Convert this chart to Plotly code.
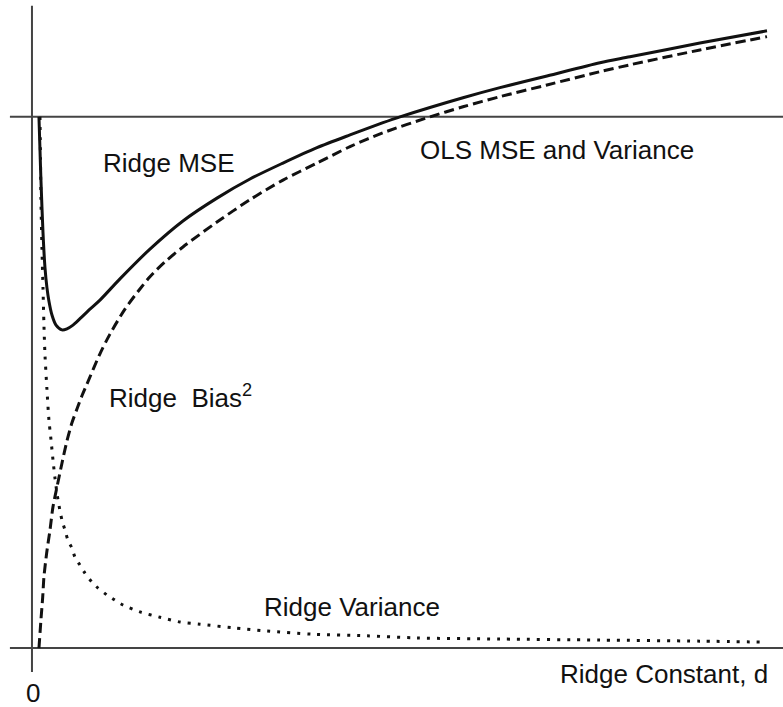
import plotly.graph_objects as go

# ridge constant d (arbitrary units, 0..10) and MSE values (OLS MSE = 1)
mse_d = [0.095, 0.109, 0.122, 0.150, 0.177, 0.204, 0.231, 0.272, 0.327, 0.408,
         0.476, 0.558, 0.653, 0.789, 0.925, 1.197, 1.605, 2.054, 2.517, 2.966,
         3.415, 3.878, 4.327, 4.776, 5.007, 5.864, 6.367, 7.007, 7.728, 8.136,
         9.088, 10.0]
mse_v = [1.000, 0.938, 0.881, 0.782, 0.716, 0.678, 0.653, 0.627, 0.608, 0.599,
         0.601, 0.608, 0.620, 0.638, 0.655, 0.695, 0.751, 0.804, 0.847, 0.883,
         0.913, 0.942, 0.966, 0.989, 1.000, 1.036, 1.055, 1.077, 1.102, 1.113,
         1.139, 1.162]

bias_d = [0.095, 0.122, 0.146, 0.163, 0.200, 0.245, 0.286, 0.340, 0.408, 0.476,
          0.544, 0.612, 0.680, 0.748, 0.925, 1.061, 1.265, 1.469, 1.605, 1.810,
          2.054, 2.517, 2.966, 3.415, 3.878, 4.327, 4.776, 5.415, 5.864, 6.367,
          7.007, 7.728, 8.136, 9.088, 10.0]
bias_v = [0.000, 0.053, 0.096, 0.134, 0.179, 0.222, 0.266, 0.303, 0.348, 0.390,
          0.424, 0.450, 0.475, 0.497, 0.554, 0.591, 0.638, 0.676, 0.699, 0.727,
          0.755, 0.802, 0.844, 0.881, 0.913, 0.944, 0.970, 1.000, 1.019, 1.038,
          1.060, 1.085, 1.098, 1.126, 1.151]

var_d = [0.109, 0.116, 0.122, 0.136, 0.150, 0.163, 0.177, 0.204, 0.231, 0.259,
         0.286, 0.313, 0.354, 0.408, 0.449, 0.490, 0.544, 0.585, 0.653, 0.721,
         0.816, 0.898, 1.020, 1.129, 1.238, 1.469, 1.741, 2.014, 2.286, 2.735,
         3.197, 3.823, 4.558, 5.238, 6.367, 7.728, 9.088, 10.0]
var_v = [1.000, 0.919, 0.844, 0.750, 0.678, 0.608, 0.552, 0.486, 0.429, 0.392,
         0.354, 0.320, 0.279, 0.241, 0.222, 0.203, 0.188, 0.171, 0.156, 0.141,
         0.124, 0.113, 0.100, 0.090, 0.081, 0.068, 0.058, 0.049, 0.045, 0.038,
         0.032, 0.026, 0.023, 0.019, 0.017, 0.015, 0.013, 0.011]

OLS_MSE = 1.0
X_RANGE = [-0.435, 10.218]
Y_RANGE = [-0.111, 1.220]

INK = "#111111"
AXIS = "#444444"
FONT = "Liberation Sans, Arial, Helvetica, sans-serif"

fig = go.Figure()
fig.add_trace(go.Scatter(x=mse_d, y=mse_v, mode="lines",
                         line=dict(color=INK, width=3, shape="spline", smoothing=0.8)))
fig.add_trace(go.Scatter(x=bias_d, y=bias_v, mode="lines",
                         line=dict(color=INK, width=3, dash="10px,5px",
                                   shape="spline", smoothing=0.8)))
fig.add_trace(go.Scatter(x=var_d, y=var_v, mode="lines",
                         line=dict(color=INK, width=3, dash="3px,7px",
                                   shape="spline", smoothing=0.8)))

# axes and the OLS reference level
line_style = dict(color=AXIS, width=2)
fig.add_shape(type="line", x0=0, x1=0, y0=-0.045, y1=1.209, line=line_style, layer="below")
fig.add_shape(type="line", x0=-0.30, x1=X_RANGE[1], y0=0, y1=0, line=line_style, layer="below")
fig.add_shape(type="line", x0=-0.30, x1=X_RANGE[1], y0=OLS_MSE, y1=OLS_MSE,
              line=line_style, layer="below")

labels = [
    ("Ridge MSE", 101, 163),
    ("OLS MSE and Variance", 418, 150),
    ("Ridge\u00a0 Bias<sup>2</sup>", 107, 397),
    ("Ridge Variance", 262, 607),
    ("Ridge Constant, d", 558, 674),
    ("0", 24, 693),
]
for text, px_x, px_y in labels:
    fig.add_annotation(text=text, xref="paper", yref="paper",
                       x=px_x / 783, y=1 - px_y / 707,
                       xanchor="left", yanchor="middle", showarrow=False,
                       font=dict(family=FONT, size=26, color=INK))

fig.update_xaxes(range=X_RANGE, visible=False)
fig.update_yaxes(range=Y_RANGE, visible=False)
fig.update_layout(width=783, height=707, margin=dict(l=0, r=0, t=0, b=0),
                  plot_bgcolor="white", paper_bgcolor="white", showlegend=False)

# drop the browser's default 8px body margin so the figure fills the window
fig.write_html("out.html", config={"displayModeBar": False},
               post_script="document.body.style.margin='0';")
